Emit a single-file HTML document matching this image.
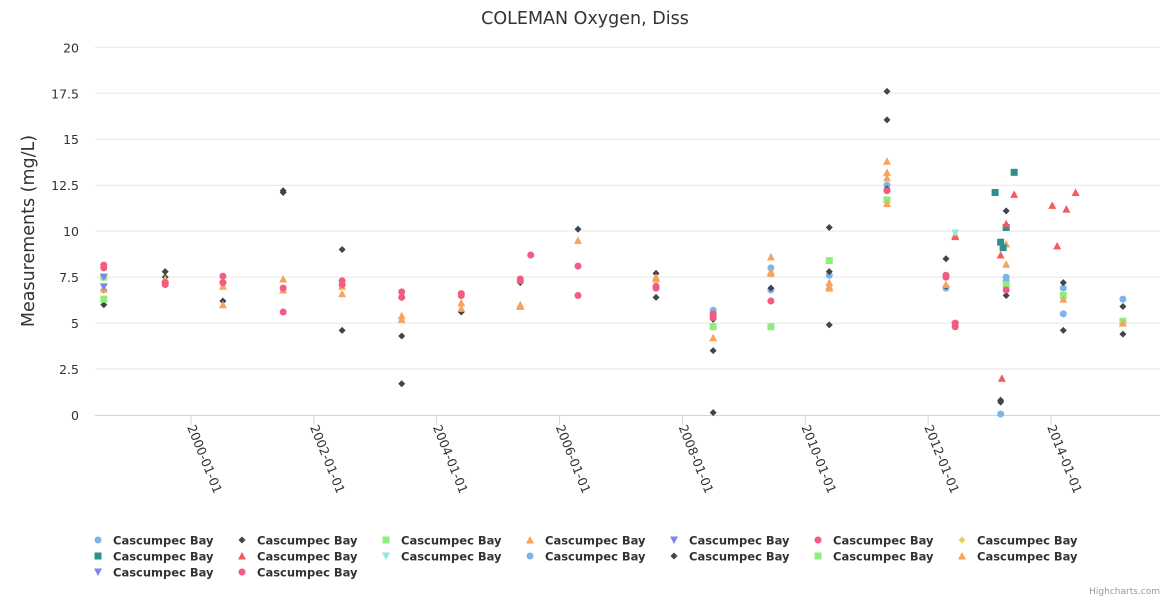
<!DOCTYPE html>
<html><head><meta charset="utf-8">
<style>
html,body{margin:0;padding:0;background:#fff;}
svg{display:block;font-family:"DejaVu Sans","Liberation Sans",sans-serif;}
</style></head>
<body>
<svg id="chart" width="1170" height="600">
<text x="585" y="24" text-anchor="middle" font-size="17.5" fill="#333">COLEMAN Oxygen, Diss</text>
<text transform="translate(34,231) rotate(-90)" text-anchor="middle" font-size="17.5" fill="#333">Measurements (mg/L)</text>
<g id="grid"></g><g id="xaxis"></g><g id="marks"></g><g id="legend"></g>
<text x="1160" y="594" text-anchor="end" font-size="9" fill="#999">Highcharts.com</text>
</svg>
<script>
const yTicks = [0, 2.5, 5, 7.5, 10, 12.5, 15, 17.5, 20];
const yTickLabels = ["0","2.5","5","7.5","10","12.5","15","17.5","20"];
const xTicks = [2000, 2002, 2004, 2006, 2008, 2010, 2012, 2014];
const xTickLabels = ["2000-01-01","2002-01-01","2004-01-01","2006-01-01","2008-01-01","2010-01-01","2012-01-01","2014-01-01"];
// marker groups: [decimalYear, value]
const blueCircles = [[2008.5,5.7],[2008.5,5.4],[2009.44,8.0],[2009.44,6.8],[2010.39,7.6],[2011.33,12.5],[2012.29,6.9],[2013.18,0.05],[2013.27,7.5],[2013.27,7.3],[2014.2,6.9],[2014.2,5.5],[2015.17,6.3]];
const darkDiamonds = [[1998.58,6.0],[1998.58,6.8],[1999.58,7.8],[1999.58,7.5],[2000.52,6.2],[2001.5,12.2],[2001.5,12.1],[2002.46,9.0],[2002.46,4.6],[2003.43,4.3],[2003.43,1.7],[2004.4,5.6],[2005.36,7.2],[2006.3,10.1],[2007.57,7.7],[2007.57,6.4],[2008.5,5.2],[2008.5,3.5],[2008.5,0.13],[2009.44,6.9],[2010.39,10.2],[2010.39,7.8],[2010.39,4.9],[2011.33,17.6],[2011.33,16.05],[2011.33,12.3],[2012.29,8.5],[2012.29,7.0],[2013.18,0.8],[2013.18,0.7],[2013.27,11.1],[2013.27,6.5],[2014.2,7.2],[2014.2,4.6],[2015.17,5.9],[2015.17,4.4]];
const greenSquares = [[1998.58,7.5],[1998.58,6.3],[2008.5,4.8],[2009.44,4.8],[2010.39,8.4],[2011.33,11.7],[2013.27,7.1],[2014.2,6.5],[2015.17,5.1]];
const orangeTriangles = [[1998.58,6.85],[1999.58,7.4],[2000.52,7.0],[2000.52,6.0],[2001.5,7.4],[2001.5,6.8],[2002.46,7.0],[2002.46,6.6],[2003.43,5.4],[2003.43,5.2],[2004.4,6.1],[2004.4,5.8],[2005.36,6.0],[2005.36,5.9],[2006.3,9.5],[2007.57,7.5],[2007.57,7.4],[2008.5,4.2],[2009.44,8.6],[2009.44,7.8],[2009.44,7.7],[2010.39,7.2],[2010.39,7.0],[2010.39,6.9],[2011.33,13.8],[2011.33,13.2],[2011.33,12.9],[2011.33,11.5],[2012.29,7.1],[2012.44,9.8],[2013.27,9.3],[2013.27,8.2],[2014.2,6.3],[2015.17,5.0]];
const purpleTriDown = [[1998.58,7.5],[1998.58,6.97],[2012.44,4.9]];
const pinkCircles = [[1998.58,8.15],[1998.58,8.0],[1999.58,7.2],[1999.58,7.1],[2000.52,7.55],[2000.52,7.2],[2001.5,6.9],[2001.5,5.6],[2002.46,7.3],[2002.46,7.1],[2003.43,6.7],[2003.43,6.4],[2004.4,6.6],[2004.4,6.5],[2005.36,7.4],[2005.36,7.3],[2005.53,8.7],[2006.3,8.1],[2006.3,6.5],[2007.57,7.0],[2007.57,6.9],[2008.5,5.5],[2008.5,5.3],[2009.44,6.2],[2011.33,12.2],[2012.29,7.6],[2012.29,7.5],[2012.44,5.0],[2012.44,4.8],[2013.27,6.8]];
const tealSquares = [[2013.09,12.1],[2013.18,9.4],[2013.22,9.1],[2013.27,10.2],[2013.4,13.2]];
const redTriangles = [[2012.44,9.7],[2013.18,8.7],[2013.2,2.0],[2013.27,10.4],[2013.4,12.0],[2014.02,11.4],[2014.1,9.2],[2014.25,11.2],[2014.4,12.1]];
const cyanTriDown = [[2012.44,9.9]];
const legendSeries = ["Cascumpec Bay","Cascumpec Bay","Cascumpec Bay","Cascumpec Bay","Cascumpec Bay","Cascumpec Bay","Cascumpec Bay","Cascumpec Bay","Cascumpec Bay","Cascumpec Bay","Cascumpec Bay","Cascumpec Bay","Cascumpec Bay","Cascumpec Bay","Cascumpec Bay","Cascumpec Bay"];

const NS="http://www.w3.org/2000/svg";
const X0=95,X1=1160,Y0=415,Y1=47.3;
function xs(t){return 191+(t-2000)*61.43;}
function ys(v){return Y0-(v-0)*(Y0-Y1)/20;}
function mk(tag,attrs,parent){const e=document.createElementNS(NS,tag);for(const k in attrs)e.setAttribute(k,attrs[k]);parent.appendChild(e);return e;}
const grid=document.getElementById('grid'),xa=document.getElementById('xaxis'),marks=document.getElementById('marks'),leg=document.getElementById('legend');
yTicks.forEach((v,i)=>{
  const y=ys(v);
  if(i>0){const l=mk('line',{x1:X0,x2:X1,y1:y,y2:y,stroke:'#e6e6e6','stroke-width':1},grid);
  
  }
  const t=mk('text',{x:79,y:y+5,'text-anchor':'end','font-size':12.5,fill:'#333'},grid);
  t.textContent=yTickLabels[i];
  
  
});
const ax=mk('line',{x1:X0,x2:X1,y1:Y0+0.5,y2:Y0+0.5,stroke:'#ccd6eb','stroke-width':1},xa);


xTicks.forEach((v,i)=>{
  const x=xs(v);
  const tk=mk('line',{x1:x,x2:x,y1:Y0,y2:Y0+10,stroke:'#ccd6eb'},xa);
  
  
  const t=mk('text',{transform:`translate(${x-4},${Y0+12}) rotate(68)`,'font-size':12.5,fill:'#333'},xa);
  t.textContent=xTickLabels[i];
  
  
});
function marker(shape,color,cx,cy,parent){
  let e;
  if(shape==='circle') e=mk('circle',{cx:cx,cy:cy,r:3.5,fill:color},parent);
  else if(shape==='square') e=mk('rect',{x:cx-3.5,y:cy-3.5,width:7,height:7,fill:color},parent);
  else if(shape==='diamond') e=mk('path',{d:`M${cx} ${cy-3.5}L${cx+3.5} ${cy}L${cx} ${cy+3.5}L${cx-3.5} ${cy}Z`,fill:color},parent);
  else if(shape==='triangle') e=mk('path',{d:`M${cx} ${cy-4}L${cx+4} ${cy+3.5}L${cx-4} ${cy+3.5}Z`,fill:color},parent);
  else e=mk('path',{d:`M${cx-4} ${cy-3.5}L${cx+4} ${cy-3.5}L${cx} ${cy+4}Z`,fill:color},parent);
  return e;
}
const groups=[[blueCircles,'circle','#7cb5ec'],[darkDiamonds,'diamond','#434348'],[greenSquares,'square','#90ed7d'],[orangeTriangles,'triangle','#f7a35c'],[purpleTriDown,'tri-down','#8085e9'],[pinkCircles,'circle','#f15c80'],[tealSquares,'square','#2b908f'],[redTriangles,'triangle','#f45b5b'],[cyanTriDown,'tri-down','#91e8e1']];
groups.forEach(g=>{
  g[0].forEach(p=>{
    const e=marker(g[1],g[2],xs(p[0]),ys(p[1]),marks);
    
    
  });
});
const legShapes=['circle','diamond','square','triangle','tri-down','circle','diamond','square','triangle','tri-down','circle','diamond','square','triangle','tri-down','circle'];
const legColors=['#7cb5ec','#434348','#90ed7d','#f7a35c','#8085e9','#f15c80','#e4d354','#2b908f','#f45b5b','#91e8e1','#7cb5ec','#434348','#90ed7d','#f7a35c','#8085e9','#f15c80'];
legendSeries.forEach((name,i)=>{
  const col=i%7,row=Math.floor(i/7);
  const x=98+col*144,y=540+row*16;
  const g=mk('g',{},leg);
  
  
  marker(legShapes[i],legColors[i],x,y,g);
  const t=mk('text',{x:x+15,y:y+4.5,'font-size':11.5,'font-weight':'bold',fill:'#333'},g);
  t.textContent=name;
});
</script>
</body></html>
